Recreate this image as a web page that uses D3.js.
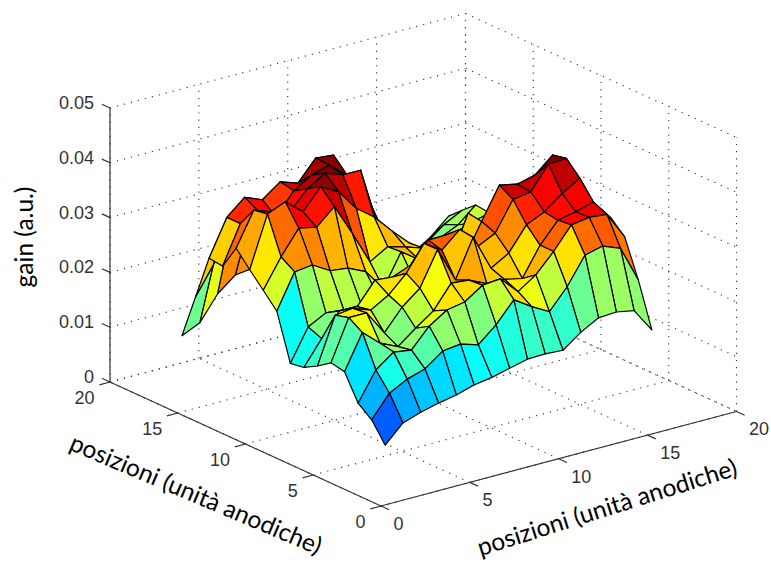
<!DOCTYPE html>
<html>
<head>
<meta charset="utf-8">
<script src="https://cdn.jsdelivr.net/npm/d3@7"></script>
<style>
  html, body { margin: 0; padding: 0; background: #fff; }
  svg { display: block; }
  text { fill: #000; }
  .tick-label { font-family: "Liberation Sans", Arial, sans-serif; font-size: 18px; fill: #333; }
  .title { font-family: Lato, sans-serif; font-size: 24.5px; text-anchor: middle; }
</style>
</head>
<body>
<div id="chart"></div>
<script>
var xTicks = [0, 5, 10, 15, 20];
var yTicks = [0, 5, 10, 15, 20];
var zTicks = [0, 0.01, 0.02, 0.03, 0.04, 0.05];
var zTickLabels = ["0", "0.01", "0.02", "0.03", "0.04", "0.05"];
var positions = d3.range(1, 17);

// gain, one array per y position, x = 1..16
var gainY01 = [.0091, .0123, .0134, .0142, .0148, .0158, .0163, .0171, .0179, .0180, .0178, .0202, .0220, .0222, .0216, .0172];
var gainY02 = [.0126, .0166, .0183, .0193, .0217, .0221, .0211, .0239, .0276, .0255, .0237, .0274, .0323, .0331, .0318, .0252];
var gainY03 = [.0145, .0197, .0221, .0216, .0251, .0272, .0278, .0300, .0303, .0271, .0293, .0327, .0367, .0372, .0369, .0319];
var gainY04 = [.0191, .0254, .0226, .0211, .0236, .0259, .0301, .0298, .0283, .0282, .0275, .0327, .0364, .0371, .0380, .0342];
var gainY05 = [.0196, .0270, .0270, .0225, .0263, .0289, .0351, .0287, .0356, .0291, .0310, .0353, .0368, .0393, .0412, .0345];
var gainY06 = [.0179, .0263, .0267, .0255, .0274, .0305, .0351, .0330, .0359, .0319, .0335, .0388, .0393, .0435, .0437, .0361];
var gainY07 = [.0165, .0209, .0251, .0250, .0290, .0287, .0300, .0337, .0338, .0285, .0345, .0403, .0396, .0404, .0432, .0368];
var gainY08 = [.0161, .0219, .0236, .0233, .0233, .0237, .0234, .0250, .0290, .0270, .0349, .0300, .0330, .0350, .0370, .0330];
var gainY09 = [.0245, .0308, .0312, .0293, .0289, .0274, .0235, .0293, .0270, .0260, .0270, .0280, .0290, .0300, .0310, .0290];
var gainY10 = [.0272, .0324, .0368, .0361, .0390, .0333, .0272, .0291, .0282, .0271, .0250, .0260, .0260, .0270, .0270, .0260];
var gainY11 = [.0298, .0391, .0405, .0378, .0415, .0397, .0358, .0334, .0300, .0269, .0240, .0230, .0230, .0240, .0240, .0230];
var gainY12 = [.0326, .0387, .0375, .0365, .0400, .0420, .0408, .0408, .0295, .0260, .0230, .0230, .0230, .0240, .0240, .0230];
var gainY13 = [.0282, .0351, .0365, .0345, .0385, .0405, .0415, .0388, .0350, .0270, .0230, .0220, .0220, .0230, .0240, .0250];
var gainY14 = [.0285, .0351, .0379, .0366, .0390, .0379, .0416, .0413, .0340, .0300, .0240, .0210, .0200, .0210, .0225, .0253];
var gainY15 = [.0203, .0253, .0310, .0310, .0320, .0330, .0340, .0370, .0300, .0300, .0240, .0210, .0180, .0190, .0215, .0232];
var gainY16 = [.0121, .0136, .0180, .0206, .0210, .0230, .0250, .0260, .0270, .0270, .0220, .0190, .0170, .0160, .0181, .0210];
var gain = [gainY01, gainY02, gainY03, gainY04, gainY05, gainY06, gainY07, gainY08,
            gainY09, gainY10, gainY11, gainY12, gainY13, gainY14, gainY15, gainY16];

var width = 771, height = 562;
var originX = 381, originY = 506;

// the 3d box is an oblique projection, each data axis adds its own screen offset
var xToPx = d3.scaleLinear().domain([0, 20]).range([0, 355.5]);
var xToPy = d3.scaleLinear().domain([0, 20]).range([0, -94.5]);
var yToPx = d3.scaleLinear().domain([0, 20]).range([0, -271]);
var yToPy = d3.scaleLinear().domain([0, 20]).range([0, -124]);
var zToPy = d3.scaleLinear().domain([0, 0.05]).range([0, -274]);

function project(p) {
    return [originX + xToPx(p[0]) + yToPx(p[1]),
            originY + xToPy(p[0]) + yToPy(p[1]) + zToPy(p[2])];
}

var jet = d3.scaleLinear()
    .domain([0, 0.125, 0.375, 0.625, 0.875, 1].map(function(t) { return t * 0.042; }))
    .range(["#000080", "#0000ff", "#00ffff", "#ffff00", "#ff0000", "#800000"])
    .clamp(true);

var line = d3.line().x(function(p) { return project(p)[0]; }).y(function(p) { return project(p)[1]; });

var svg = d3.select("#chart").append("svg").attr("width", width).attr("height", height);

// dotted grid on the floor and on the two back walls
var gridLines = [];
xTicks.forEach(function(x) {
    gridLines.push([[x, 0, 0], [x, 20, 0]]);
    gridLines.push([[x, 20, 0], [x, 20, 0.05]]);
});
yTicks.forEach(function(y) {
    gridLines.push([[0, y, 0], [20, y, 0]]);
    gridLines.push([[20, y, 0], [20, y, 0.05]]);
});
zTicks.forEach(function(z) {
    gridLines.push([[0, 20, z], [20, 20, z]]);
    gridLines.push([[20, 20, z], [20, 0, z]]);
});
svg.append("g").selectAll("path").data(gridLines).enter().append("path")
    .attr("d", line)
    .attr("fill", "none")
    .attr("stroke", "#333")
    .attr("stroke-width", 1.1)
    .attr("stroke-dasharray", "1.2 6");

// axes
var axisLines = [
    [[0, 0, 0], [20, 0, 0]],
    [[0, 0, 0], [0, 20, 0]],
    [[0, 20, 0], [0, 20, 0.05]]
];
xTicks.forEach(function(x) { axisLines.push([[x, 0, 0], [x, -0.6, 0]]); });
yTicks.forEach(function(y) { axisLines.push([[0, y, 0], [-0.6, y, 0]]); });
zTicks.forEach(function(z) { axisLines.push([[0, 20, z], [0, 20.6, z]]); });
svg.append("g").selectAll("path").data(axisLines).enter().append("path")
    .attr("d", line)
    .attr("fill", "none")
    .attr("stroke", "#333")
    .attr("stroke-width", 1.2);

// surface, far facets first, colour from the facet's first vertex
var facets = [];
for (var j = positions.length - 2; j >= 0; j--) {
    for (var i = positions.length - 2; i >= 0; i--) {
        facets.push({
            value: gain[j][i],
            corners: [
                [positions[i], positions[j], gain[j][i]],
                [positions[i + 1], positions[j], gain[j][i + 1]],
                [positions[i + 1], positions[j + 1], gain[j + 1][i + 1]],
                [positions[i], positions[j + 1], gain[j + 1][i]],
                [positions[i], positions[j], gain[j][i]]
            ]
        });
    }
}
svg.append("g").selectAll("path").data(facets).enter().append("path")
    .attr("d", function(d) { return line(d.corners) + "Z"; })
    .attr("fill", function(d) { return jet(d.value); })
    .attr("stroke", "#000")
    .attr("stroke-width", 1.2)
    .attr("stroke-linejoin", "round");

// tick labels
svg.append("g").selectAll("text").data(xTicks).enter().append("text")
    .attr("class", "tick-label")
    .attr("x", function(d) { return project([d, 0, 0])[0] + 12.5; })
    .attr("y", function(d) { return project([d, 0, 0])[1] + 17.5; })
    .attr("dy", "0.36em")
    .text(function(d) { return d; });
svg.append("g").selectAll("text").data(yTicks).enter().append("text")
    .attr("class", "tick-label")
    .attr("text-anchor", "end")
    .attr("x", function(d) { return project([0, d, 0])[0] - 15.5; })
    .attr("y", function(d) { return project([0, d, 0])[1] + 16; })
    .attr("dy", "0.36em")
    .text(function(d) { return d; });
svg.append("g").selectAll("text").data(zTicks).enter().append("text")
    .attr("class", "tick-label")
    .attr("text-anchor", "end")
    .attr("x", function(d) { return project([0, 20, d])[0] - 16; })
    .attr("y", function(d) { return project([0, 20, d])[1] - 5.5; })
    .attr("dy", "0.36em")
    .text(function(d, i) { return zTickLabels[i]; });

// titles
svg.append("text").attr("class", "title")
    .attr("transform", "translate(24,237) rotate(-90)")
    .attr("dy", "0.36em")
    .text("gain (a.u.)");
svg.append("text").attr("class", "title")
    .attr("transform", "translate(196,494) rotate(23)")
    .attr("dy", "0.36em")
    .text("posizioni (unità anodiche)");
svg.append("text").attr("class", "title")
    .attr("transform", "translate(607,507) rotate(-17.5)")
    .attr("dy", "0.36em")
    .text("posizioni (unità anodiche)");
</script>
</body>
</html>
